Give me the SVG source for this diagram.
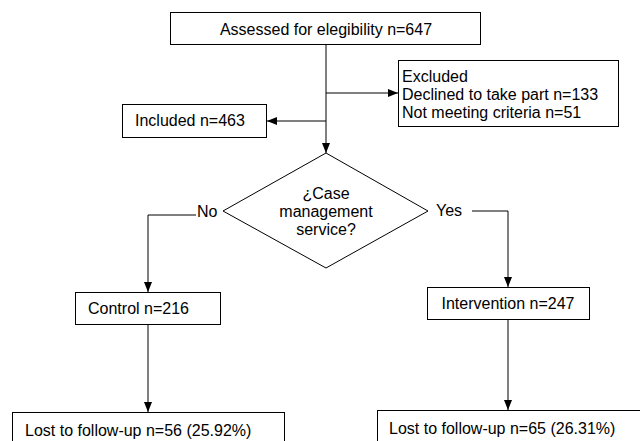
<svg xmlns="http://www.w3.org/2000/svg" width="640" height="441" viewBox="0 0 640 441">
<style>
.box{fill:#fff;stroke:#000;stroke-width:1}
.t{font-family:"Liberation Sans",Arial,sans-serif;font-size:16px;fill:#000}
.c{text-anchor:middle}
.ln{fill:none;stroke:#000;stroke-width:1}
</style>
<defs>
<marker id="ah" viewBox="0 0 10 10" refX="10" refY="5" markerWidth="10" markerHeight="10" markerUnits="userSpaceOnUse" orient="auto">
<path d="M0,1 L10,5 L0,9 Z" fill="#000"/>
</marker>
</defs>
<rect width="640" height="441" fill="#fff"/>
<g id="connectors">
<path class="ln" d="M326,45 V153" marker-end="url(#ah)"/>
<path class="ln" d="M326,93 H398" marker-end="url(#ah)"/>
<path class="ln" d="M326,121 H267" marker-end="url(#ah)"/>
<path class="ln" d="M196,215 H148 V292" marker-end="url(#ah)"/>
<path class="ln" d="M472,211 H508 V287" marker-end="url(#ah)"/>
<path class="ln" d="M148,324 V412" marker-end="url(#ah)"/>
<path class="ln" d="M508,319 V410" marker-end="url(#ah)"/>
<text class="t" x="197" y="217">No</text>
<text class="t" x="436" y="216">Yes</text>
</g>
<g id="assessed">
<rect class="box" x="170.5" y="12.5" width="310" height="32"/>
<text class="t c" x="326" y="35">Assessed for elegibility n=647</text>
</g>
<g id="excluded">
<rect class="box" x="398.5" y="60.5" width="220" height="66"/>
<text class="t" x="402" y="82">Excluded</text>
<text class="t" x="402" y="100">Declined to take part n=133</text>
<text class="t" x="402" y="118">Not meeting criteria n=51</text>
</g>
<g id="included">
<rect class="box" x="122.5" y="104.5" width="144" height="33"/>
<text class="t" x="135" y="126">Included n=463</text>
</g>
<g id="decision">
<polygon class="box" points="326,153 428,211 326,268 223,211"/>
<text class="t c" x="326" y="199">¿Case</text>
<text class="t c" x="326" y="217">management</text>
<text class="t c" x="326" y="235">service?</text>
</g>
<g id="control">
<rect class="box" x="75.5" y="292.5" width="145" height="32"/>
<text class="t" x="88" y="314">Control n=216</text>
</g>
<g id="intervention">
<rect class="box" x="427.5" y="287.5" width="162" height="32"/>
<text class="t c" x="508" y="309">Intervention n=247</text>
</g>
<g id="lost-control">
<rect class="box" x="12.5" y="412.5" width="272" height="40"/>
<text class="t" x="25" y="436">Lost to follow-up n=56 (25.92%)</text>
</g>
<g id="lost-intervention">
<rect class="box" x="377.5" y="410.5" width="270" height="40"/>
<text class="t" x="389" y="434">Lost to follow-up n=65 (26.31%)</text>
</g>
</svg>
